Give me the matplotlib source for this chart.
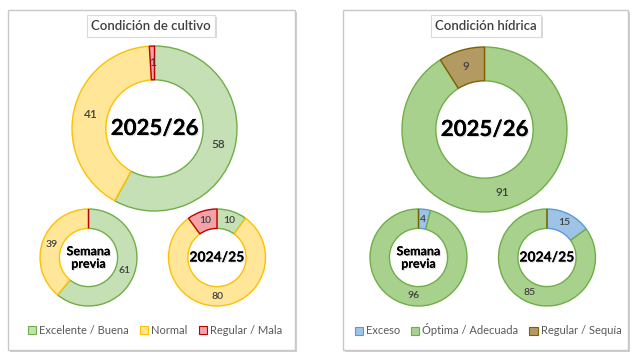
import matplotlib
matplotlib.use("Agg")
import matplotlib.pyplot as plt
import matplotlib.patheffects as pe
from matplotlib.patches import Rectangle, Patch
import numpy as np

plt.rcParams['font.family'] = ['Lato', 'DejaVu Sans']

# Data
cultivo_labels = ["Excelente / Buena", "Normal", "Regular / Mala"]
cultivo_actual = [58, 41, 1]
cultivo_previa = [61, 39, 0]
cultivo_anterior = [10, 80, 10]

hidrica_labels = ["Exceso", "Óptima / Adecuada", "Regular / Sequía"]
hidrica_actual = [0, 91, 9]
hidrica_previa = [4, 96, 0]
hidrica_anterior = [15, 85, 0]

# Colours (fill, edge)
cultivo_fill = ["#c5e0b4", "#ffe699", "#f2a3a8"]
cultivo_edge = ["#70ad47", "#ffc000", "#c00000"]
hidrica_fill = ["#9dc3e6", "#a9d18e", "#b39a63"]
hidrica_edge = ["#5b9bd5", "#70ad47", "#7f6000"]

W, H = 640, 356
fig = plt.figure(figsize=(6.4, 3.56), dpi=100)
fig.patch.set_facecolor("white")

# Background axes in pixel coords for panels and titles
bg = fig.add_axes([0, 0, 1, 1])
bg.set_xlim(0, W)
bg.set_ylim(H, 0)
bg.axis("off")

for x0, x1 in [(8, 295), (343, 628)]:
    bg.add_patch(Rectangle((x0 + 1.5, 11.5), x1 - x0, 340, facecolor="#d0d0d0",
                           edgecolor="none", zorder=0))
    bg.add_patch(Rectangle((x0, 10), x1 - x0, 340, facecolor="white",
                           edgecolor="#c8c8c8", lw=1, zorder=1))

title_style = dict(boxstyle="square,pad=0.35", facecolor="white", edgecolor="#d9d9d9", lw=0.8)
for x, t in [(151, "Condición de cultivo"), (486, "Condición hídrica")]:
    bg.text(x, 26, t, ha="center", va="center", fontsize=9.5, color="#404040",
            fontweight="semibold", bbox=title_style, zorder=3)
    # soft shadow under title box
    bg.text(x + 1.5, 27.5, t, ha="center", va="center", fontsize=9.5, color="none",
            fontweight="semibold",
            bbox=dict(boxstyle="square,pad=0.35", facecolor="#c0c0c0", edgecolor="none", alpha=0.6),
            zorder=2)

shadow = [pe.withSimplePatchShadow(offset=(0.8, -0.8), shadow_rgbFace="#999999", alpha=0.35),
          pe.Normal()]


def donut(cx, cy, r, width, values, fills, edges, center_text, center_size, label_size):
    ax = fig.add_axes([(cx - r - 2) / W, 1 - (cy + r + 2) / H, (2 * r + 4) / W, (2 * r + 4) / H])
    wedges, _ = ax.pie(values, colors=fills, startangle=90, counterclock=False,
                       radius=1, wedgeprops=dict(width=width, linewidth=1.0))
    for w, ec in zip(wedges, edges):
        w.set_edgecolor(ec)
    # values at the middle of the ring
    total = sum(values)
    start = 0.0
    for v in values:
        if v > 0:
            mid = (start + v / 2) / total * 360
            ang = np.deg2rad(90 - mid)
            rr = 1 - width / 2
            ax.text(rr * np.cos(ang), rr * np.sin(ang), str(v), ha="center", va="center",
                    fontsize=label_size, color="#404040", fontweight="semibold")
        start += v
    ax.text(0, 0, center_text, ha="center", va="center", fontsize=center_size,
            fontweight="bold", color="black", linespacing=1.05, path_effects=shadow)
    m = (r + 2) / r
    ax.set_xlim(-m, m)
    ax.set_ylim(-m, m)
    ax.set_aspect("equal")
    ax.axis("off")


donut(154.5, 128.5, 82.5, 0.41, cultivo_actual, cultivo_fill, cultivo_edge, "2025/26", 16, 8.5)
donut(88.5, 257.5, 48.5, 0.40, cultivo_previa, cultivo_fill, cultivo_edge, "Semana\nprevia", 9, 7.5)
donut(217, 257.5, 48.5, 0.40, cultivo_anterior, cultivo_fill, cultivo_edge, "2024/25", 10, 7.5)

donut(484.5, 129.5, 82.5, 0.41, hidrica_actual, hidrica_fill, hidrica_edge, "2025/26", 16, 8.5)
donut(418.5, 257.5, 48.5, 0.40, hidrica_previa, hidrica_fill, hidrica_edge, "Semana\nprevia", 9, 7.5)
donut(547, 257.5, 48.5, 0.40, hidrica_anterior, hidrica_fill, hidrica_edge, "2024/25", 10, 7.5)

# Legends
for cx, labels, fills, edges in [(155, cultivo_labels, cultivo_fill, cultivo_edge),
                                 (488, hidrica_labels, hidrica_fill, hidrica_edge)]:
    handles = [Patch(facecolor=f, edgecolor=e, lw=0.8) for f, e in zip(fills, edges)]
    fig.legend(handles, labels, loc="center", bbox_to_anchor=(cx / W, 1 - 330 / H),
               ncol=3, frameon=False, fontsize=8, handlelength=0.75, handleheight=0.75,
               handletextpad=0.25, columnspacing=1.0, labelcolor="#595959")

fig.savefig("out.png", dpi=100)
